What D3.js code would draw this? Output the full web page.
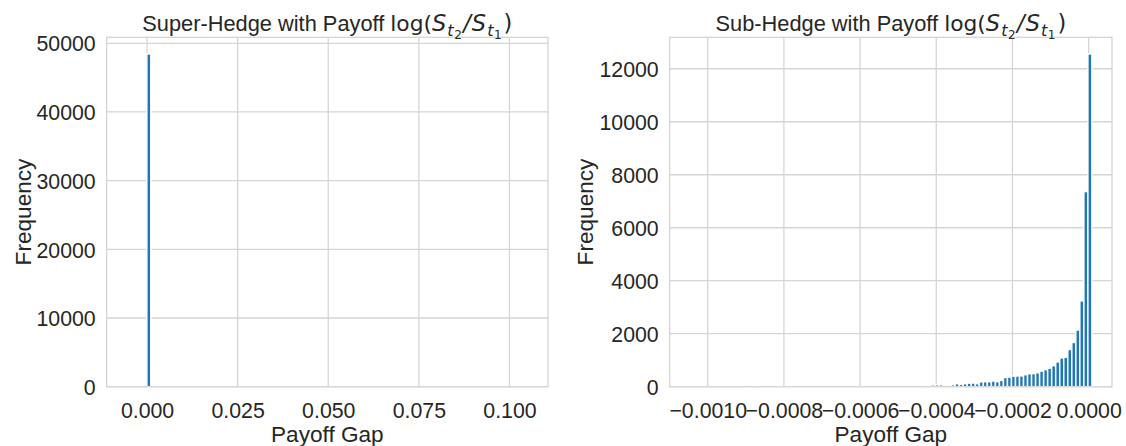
<!DOCTYPE html>
<html>
<head>
<meta charset="utf-8">
<script src="https://cdn.jsdelivr.net/npm/d3@7"></script>
<style>
  html, body { margin: 0; padding: 0; background: #ffffff; }
  svg { display: block; }
</style>
</head>
<body>
<div id="chart"></div>
<script>
// ---- Histogram data (100 equal-width bins over each data range) ----
const superRange = [-0.0056, 0.1051];
const superCounts = [
  1, 0, 0, 0, 0, 48450, 0, 0, 0, 0,
  0, 0, 0, 0, 0, 0, 0, 0, 0, 0,
  0, 0, 0, 0, 0, 0, 0, 0, 0, 0,
  0, 0, 0, 0, 0, 0, 0, 0, 0, 0,
  0, 0, 0, 0, 0, 0, 0, 0, 0, 0,
  0, 0, 0, 0, 0, 0, 0, 0, 0, 0,
  0, 0, 0, 0, 0, 0, 0, 0, 0, 0,
  0, 0, 0, 0, 0, 0, 0, 0, 0, 0,
  0, 0, 0, 0, 0, 0, 0, 0, 0, 0,
  0, 0, 0, 0, 0, 0, 0, 0, 0, 1
];

const subRange = [-0.001047, 0.0000085];
const subCounts = [
  1, 0, 0, 1, 0, 0, 0, 1, 0, 1,
  0, 0, 1, 0, 1, 1, 0, 1, 1, 0,
  1, 2, 1, 1, 2, 1, 2, 2, 2, 2,
  3, 3, 3, 3, 4, 4, 4, 5, 5, 5,
  6, 6, 6, 7, 7, 7, 8, 8, 8, 9,
  9, 10, 10, 11, 12, 15, 25, 30, 35, 40,
  70, 75, 75, 55, 50, 75, 115, 90, 115, 135,
  140, 115, 185, 190, 190, 215, 190, 240, 350, 365,
  400, 405, 410, 455, 490, 495, 530, 590, 645, 700,
  795, 935, 1085, 1110, 1405, 1670, 2140, 3240, 7365, 12560
];

// ---- Tick values ----
const superXTicks = [0, 0.025, 0.05, 0.075, 0.1];
const superYTicks = [0, 10000, 20000, 30000, 40000, 50000];
const subXTicks = [-0.001, -0.0008, -0.0006, -0.0004, -0.0002, 0];
const subYTicks = [0, 2000, 4000, 6000, 8000, 10000, 12000];

const W = 1126, H = 446;
const TEXT = "#262626", GRID = "#d5d5d5", BAR = "#1f77b4";
const SANS = "'Liberation Sans', Arial, Helvetica, sans-serif";
const MATH = "'DejaVu Sans', sans-serif";
const TICK_SIZE = 21.3, LABEL_SIZE = 22.6, TITLE_SIZE = 21.8;

const svg = d3.select("#chart").append("svg")
  .attr("width", W).attr("height", H)
  .attr("viewBox", `0 0 ${W} ${H}`);

function bins(range, counts) {
  const w = (range[1] - range[0]) / counts.length;
  return counts.map((c, i) => ({ x0: range[0] + i * w, x1: range[0] + (i + 1) * w, count: c }));
}

function padded(lo, hi) {
  const p = (hi - lo) * 0.05;
  return [lo - p, hi + p];
}

function styleTickText(sel) {
  sel.attr("font-family", SANS).attr("font-size", TICK_SIZE).attr("fill", TEXT);
}

function drawPanel(opt) {
  const g = svg.append("g");
  const data = bins(opt.range, opt.counts);
  const x = d3.scaleLinear().domain(padded(opt.range[0], opt.range[1])).range([opt.left, opt.right]);
  const ymax = d3.max(opt.counts);
  const y = d3.scaleLinear().domain([0, ymax * 1.05]).range([opt.bottom, opt.top]);

  // grid
  g.append("g").selectAll("line").data(opt.xTicks).join("line")
    .attr("x1", d => x(d)).attr("x2", d => x(d))
    .attr("y1", opt.top).attr("y2", opt.bottom)
    .attr("stroke", GRID).attr("stroke-width", 1.3);
  g.append("g").selectAll("line").data(opt.yTicks).join("line")
    .attr("x1", opt.left).attr("x2", opt.right)
    .attr("y1", d => y(d)).attr("y2", d => y(d))
    .attr("stroke", GRID).attr("stroke-width", 1.3);

  // bars
  g.append("g").selectAll("rect").data(data.filter(d => d.count > 0)).join("rect")
    .attr("x", d => x(d.x0))
    .attr("width", d => x(d.x1) - x(d.x0))
    .attr("y", d => y(d.count))
    .attr("height", d => y(0) - y(d.count))
    .attr("fill", BAR)
    .attr("stroke", "#ffffff")
    .attr("stroke-width", 1.5);

  // frame
  g.append("rect")
    .attr("x", opt.left).attr("y", opt.top)
    .attr("width", opt.right - opt.left).attr("height", opt.bottom - opt.top)
    .attr("fill", "none").attr("stroke", GRID).attr("stroke-width", 1.3);

  // axes (tick labels only, no tick marks)
  const xAxis = d3.axisBottom(x).tickValues(opt.xTicks).tickFormat(opt.xFmt).tickSize(0).tickPadding(0);
  const gx = g.append("g").attr("transform", `translate(0,${opt.bottom})`).call(xAxis);
  gx.select(".domain").remove();
  gx.selectAll("text").attr("y", 0).attr("dy", 31).call(styleTickText);

  const yAxis = d3.axisLeft(y).tickValues(opt.yTicks).tickFormat(d3.format("d")).tickSize(0).tickPadding(0);
  const gy = g.append("g").attr("transform", `translate(${opt.left},0)`).call(yAxis);
  gy.select(".domain").remove();
  gy.selectAll("text").attr("x", -11).attr("dy", "0.36em").call(styleTickText);

  // axis labels
  g.append("text")
    .attr("x", (opt.left + opt.right) / 2).attr("y", 441.5)
    .attr("text-anchor", "middle")
    .attr("font-family", SANS).attr("font-size", LABEL_SIZE).attr("fill", TEXT)
    .text("Payoff Gap");
  g.append("text")
    .attr("transform", `translate(${opt.ylabelX},${(opt.top + opt.bottom) / 2}) rotate(-90)`)
    .attr("text-anchor", "middle")
    .attr("font-family", SANS).attr("font-size", LABEL_SIZE).attr("fill", TEXT)
    .text("Frequency");

  // title with math: log(S_{t_2}/S_{t_1})
  const t = g.append("text")
    .attr("x", (opt.left + opt.right) / 2).attr("y", 30.5)
    .attr("text-anchor", "middle")
    .attr("font-size", TITLE_SIZE).attr("fill", TEXT);
  t.append("tspan").attr("font-family", SANS).text(opt.title + " ");
  t.append("tspan").attr("font-family", MATH).text("log(");
  t.append("tspan").attr("font-family", MATH).attr("font-style", "italic").attr("font-size", 22.5).text("S");
  t.append("tspan").attr("font-family", MATH).attr("font-style", "italic").attr("font-size", 16).attr("dx", 1).attr("dy", 5).text("t");
  t.append("tspan").attr("font-family", MATH).attr("font-size", 12).attr("dx", 0.5).attr("dy", 3).text("2");
  t.append("tspan").attr("font-family", MATH).attr("font-style", "italic").attr("font-size", 22.5).attr("dx", 1.5).attr("dy", -8).text("/");
  t.append("tspan").attr("font-family", MATH).attr("font-style", "italic").attr("font-size", 22.5).attr("dx", 1).text("S");
  t.append("tspan").attr("font-family", MATH).attr("font-style", "italic").attr("font-size", 16).attr("dx", 1).attr("dy", 5).text("t");
  t.append("tspan").attr("font-family", MATH).attr("font-size", 12).attr("dx", 0.5).attr("dy", 3).text("1");
  t.append("tspan").attr("font-family", MATH).attr("font-size", 22.5).attr("dx", 2).attr("dy", -8).text(")");
}

drawPanel({
  title: "Super-Hedge with Payoff",
  range: superRange, counts: superCounts,
  xTicks: superXTicks, yTicks: superYTicks,
  xFmt: d3.format(".3f"),
  left: 106.7, right: 548, top: 37.3, bottom: 386.7, ylabelX: 31
});

drawPanel({
  title: "Sub-Hedge with Payoff",
  range: subRange, counts: subCounts,
  xTicks: subXTicks, yTicks: subYTicks,
  xFmt: d3.format(".4f"),
  left: 669.7, right: 1112, top: 37.3, bottom: 386.7, ylabelX: 593
});
</script>
</body>
</html>
